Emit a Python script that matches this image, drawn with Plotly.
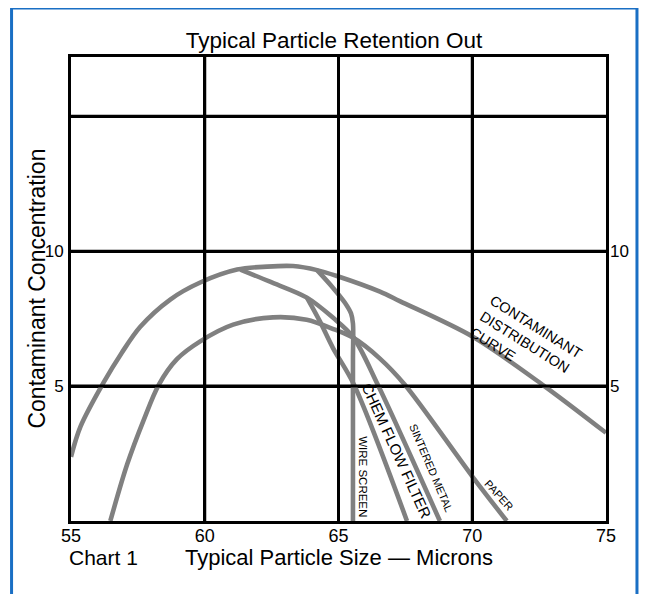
import plotly.graph_objects as go

# ---------------- data ----------------
x_tickvals = [55, 60, 65, 70, 75]
x_ticktext = ["55", "60", "65", "70", "75"]
y_tickvals = [5, 10, 15]
y_ticktext = ["5", "10", ""]

# Contaminant distribution curve (outer arc)
contam_x = [55.0, 55.35, 56.21, 56.90, 57.59, 58.71, 59.83, 61.21, 62.33, 63.30, 64.20, 64.94, 66.55, 67.29, 70.02, 72.63, 75.0]
contam_y = [2.38, 3.49, 5.12, 6.24, 7.20, 8.21, 8.84, 9.32, 9.43, 9.45, 9.30, 9.08, 8.50, 8.15, 6.83, 5.05, 3.27]

# Wire screen (branches off outer arc, drops vertically)
wire_x = [64.20, 64.79, 65.24, 65.47, 65.54, 65.54, 65.54]
wire_y = [9.30, 8.65, 8.09, 7.69, 7.32, 6.00, 0.0]

# Sintered metal
sinter_x = [61.33, 62.44, 63.82, 64.79, 65.54, 66.47, 68.79]
sinter_y = [9.32, 8.87, 8.28, 7.54, 6.83, 5.05, 0.0]

# Chem flow filter
chem_x = [63.82, 64.31, 64.79, 65.58, 67.56]
chem_y = [8.28, 7.39, 6.42, 5.05, 0.0]

# Paper (inner arc)
paper_x = [56.47, 57.10, 57.72, 58.28, 58.96, 59.83, 61.06, 62.55, 63.81, 64.87, 65.54, 66.55, 67.48, 70.02, 71.29]
paper_y = [0.0, 2.10, 3.75, 5.05, 6.00, 6.66, 7.28, 7.55, 7.46, 7.09, 6.80, 6.02, 5.05, 1.63, 0.0]

curves = [(contam_x, contam_y), (wire_x, wire_y), (sinter_x, sinter_y), (chem_x, chem_y), (paper_x, paper_y)]

# curve labels: text, x, y, angle, size
labels = [
    ("CONTAMINANT<br>DISTRIBUTION<br>CURVE", 72.0, 6.58, 32, 14.5),
    ("CHEM FLOW FILTER", 67.16, 2.60, 65.5, 15),
    ("SINTERED METAL", 68.47, 1.97, 67, 11),
    ("WIRE SCREEN", 65.91, 1.63, 90, 11.5),
    ("PAPER", 71.0, 0.97, 48, 11),
]

FONT = "Liberation Sans, Arial, Helvetica, sans-serif"
GRAY = "rgb(128,128,128)"

# page body has an 8px default margin -> figure drawn 8px smaller, shifted
W, H = 639, 586

fig = go.Figure()
for xs, ys in curves:
    fig.add_trace(go.Scatter(x=xs, y=ys, mode="lines",
                             line=dict(color=GRAY, width=4.6, shape="spline", smoothing=0.9),
                             hoverinfo="skip", showlegend=False))
# invisible trace to activate the right-hand axis
fig.add_trace(go.Scatter(x=[55], y=[0], yaxis="y2", mode="markers",
                         marker=dict(opacity=0), hoverinfo="skip", showlegend=False))

annotations = []
for text, x, y, ang, size in labels:
    annotations.append(dict(text=text, x=x, y=y, xref="x", yref="y", showarrow=False,
                            textangle=ang, align="left", xanchor="center", yanchor="middle",
                            font=dict(family=FONT, size=size, color="black")))

# axis titles / caption
annotations += [
    dict(text="Contaminant Concentration", xref="paper", yref="paper", x=-0.0644, y=0.5,
         textangle=-90, showarrow=False, xanchor="center", yanchor="middle",
         font=dict(family=FONT, size=23, color="black")),
    dict(text="Typical Particle Size — Microns", xref="paper", yref="paper", x=0.5, y=-0.0776,
         showarrow=False, xanchor="center", yanchor="middle",
         font=dict(family=FONT, size=22, color="black")),
    dict(text="Chart 1", xref="paper", yref="paper", x=0.0607, y=-0.0776,
         showarrow=False, xanchor="center", yanchor="middle",
         font=dict(family=FONT, size=21, color="black")),
]

# blue frame
BLUE = "#1a6fc4"
L, R, T, B = (11 - 70.5) / 535.5, (637 - 70.5) / 535.5, (521 - 8) / 464, (521 - 610) / 464
shapes = [
    dict(type="line", xref="paper", yref="paper", x0=L, x1=L, y0=T, y1=B, line=dict(color=BLUE, width=3)),
    dict(type="line", xref="paper", yref="paper", x0=L, x1=R, y0=T, y1=T, line=dict(color=BLUE, width=3)),
    dict(type="line", xref="paper", yref="paper", x0=R, x1=R, y0=T, y1=B, line=dict(color=BLUE, width=3)),
]
# black grid drawn above the gray curves, as in the reference
for xv in x_tickvals[1:-1]:
    shapes.append(dict(type="line", xref="x", yref="paper", x0=xv, x1=xv, y0=0, y1=1,
                       layer="above", line=dict(color="black", width=3)))
for yv in y_tickvals:
    shapes.append(dict(type="line", xref="paper", yref="y", x0=0, x1=1, y0=yv, y1=yv,
                       layer="above", line=dict(color="black", width=3)))

axis_common = dict(showline=True, linecolor="black", linewidth=3, mirror=True,
                   zeroline=False, ticks="", layer="above traces")

fig.update_layout(
    width=W, height=H, autosize=False,
    margin=dict(l=62.5, r=41, t=49, b=73, pad=0),
    paper_bgcolor="white", plot_bgcolor="white",
    showlegend=False,
    title=dict(text="Typical Particle Retention Out", x=326 / W, xanchor="center",
               y=1 - 32 / H, yanchor="middle", yref="container",
               font=dict(family=FONT, size=22.5, color="black")),
    xaxis=dict(range=[55, 75], tickvals=x_tickvals, ticktext=x_ticktext,
               showgrid=True, gridcolor="black", gridwidth=3, ticklabelstandoff=-4,
               tickfont=dict(family=FONT, size=18, color="black"), **axis_common),
    yaxis=dict(range=[0, 17.2], tickvals=y_tickvals, ticktext=y_ticktext,
               showgrid=True, gridcolor="black", gridwidth=3, ticklabelstandoff=1,
               tickfont=dict(family=FONT, size=17, color="black"), **axis_common),
    yaxis2=dict(range=[0, 17.2], tickvals=y_tickvals, ticktext=y_ticktext,
                overlaying="y", side="right", showgrid=False, showline=False,
                zeroline=False, ticks="", ticklabelstandoff=3,
                tickfont=dict(family=FONT, size=17, color="black")),
    annotations=annotations,
    shapes=shapes,
)

fig.write_html("out.html")
